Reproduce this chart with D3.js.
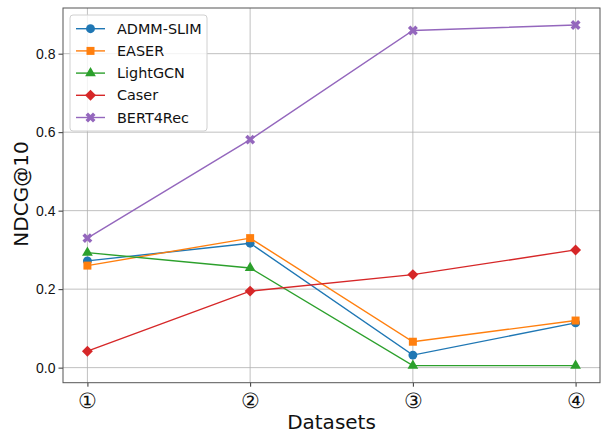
<!DOCTYPE html>
<html lang="en">
<head>
  <meta charset="UTF-8">
  <title>NDCG@10 by dataset</title>
  <script src="https://d3js.org/d3.v7.min.js"></script>
  <style>
    html, body { margin: 0; padding: 0; background: #fff; }
    svg { display: block; font-family: "DejaVu Sans", sans-serif; }
    .grid line { stroke: #b0b0b0; stroke-width: 0.8px; }
    .axis path, .axis line { stroke: #333; }
    .line { fill: none; stroke-width: 1.4px; }
  </style>
</head>
<body>
  <svg id="chart" width="606" height="434"></svg>
  <script>
  // data
  const datasets = ["①", "②", "③", "④"];
  const models = ["ADMM-SLIM", "EASER", "LightGCN", "Caser", "BERT4Rec"];
  const admmSlim = [0.272, 0.317, 0.032, 0.114];
  const easer    = [0.260, 0.330, 0.066, 0.120];
  const lightGcn = [0.293, 0.254, 0.005, 0.005];
  const caser    = [0.042, 0.195, 0.237, 0.300];
  const bert4rec = [0.330, 0.581, 0.859, 0.873];
  const yTicks = [0.0, 0.2, 0.4, 0.6, 0.8];

  const colors = ["#1f77b4", "#ff7f0e", "#2ca02c", "#d62728", "#9467bd"];
  const symbols = [
    { type: d3.symbolCircle, size: 62, rot: 0 },
    { type: d3.symbolSquare, size: 64, rot: 0 },
    { type: d3.symbolTriangle, size: 50, rot: 0 },
    { type: d3.symbolSquare, size: 60, rot: 45 },
    { type: d3.symbolCross, size: 62, rot: 45 }
  ];
  const series = [admmSlim, easer, lightGcn, caser, bert4rec];

  const svg = d3.select("#chart");
  const plot = { left: 63, right: 600, top: 8, bottom: 382.7 };

  const x = d3.scaleLinear().domain([-0.15, 3.15]).range([plot.left, plot.right]);
  const y = d3.scaleLinear().domain([-0.0384, 0.9164]).range([plot.bottom, plot.top]);

  // grid
  const grid = svg.append("g").attr("class", "grid");
  grid.selectAll(".gx").data(datasets).enter().append("line")
    .attr("x1", (d, i) => x(i)).attr("x2", (d, i) => x(i))
    .attr("y1", plot.top).attr("y2", plot.bottom);
  grid.selectAll(".gy").data(yTicks).enter().append("line")
    .attr("y1", d => y(d)).attr("y2", d => y(d))
    .attr("x1", plot.left).attr("x2", plot.right);

  // axes
  const xAxis = svg.append("g")
    .attr("class", "axis")
    .attr("transform", `translate(0,${plot.bottom})`)
    .call(d3.axisBottom(x).tickValues(d3.range(datasets.length))
      .tickFormat(i => datasets[i]).tickSize(4).tickPadding(4));
  xAxis.select(".domain").remove();
  xAxis.selectAll("text").attr("font-size", 20.5).attr("fill", "#111").attr("dy", "0.85em");

  const yAxis = svg.append("g")
    .attr("class", "axis")
    .attr("transform", `translate(${plot.left},0)`)
    .call(d3.axisLeft(y).tickValues(yTicks).tickFormat(d3.format(".1f"))
      .tickSize(4.5).tickPadding(3));
  yAxis.select(".domain").remove();
  yAxis.selectAll("text").attr("font-size", 14).attr("fill", "#111");

  // frame
  svg.append("rect")
    .attr("x", plot.left).attr("y", plot.top)
    .attr("width", plot.right - plot.left).attr("height", plot.bottom - plot.top)
    .attr("fill", "none").attr("stroke", "#555").attr("stroke-width", 1);

  // lines and markers
  const line = d3.line().x((d, i) => x(i)).y(d => y(d));
  series.forEach((vals, k) => {
    svg.append("path").datum(vals)
      .attr("class", "line")
      .attr("stroke", colors[k])
      .attr("d", line);
    svg.selectAll(".m" + k).data(vals).enter().append("path")
      .attr("class", "m" + k)
      .attr("fill", colors[k])
      .attr("d", d3.symbol().type(symbols[k].type).size(symbols[k].size))
      .attr("transform", (d, i) => `translate(${x(i)},${y(d)}) rotate(${symbols[k].rot})`);
  });

  // axis labels
  svg.append("text")
    .attr("x", (plot.left + plot.right) / 2).attr("y", 429)
    .attr("text-anchor", "middle").attr("font-size", 20).attr("fill", "#111")
    .text("Datasets");
  svg.append("text")
    .attr("transform", "translate(28,194) rotate(-90)")
    .attr("text-anchor", "middle").attr("font-size", 20).attr("fill", "#111")
    .text("NDCG@10");

  // legend
  const legend = svg.append("g");
  legend.append("rect")
    .attr("x", 70).attr("y", 15).attr("width", 137).attr("height", 116)
    .attr("rx", 3).attr("fill", "#fff").attr("fill-opacity", 0.8)
    .attr("stroke", "#d0d0d0");
  models.forEach((name, k) => {
    const cy = 28.7 + k * 22.2;
    legend.append("line")
      .attr("x1", 76).attr("x2", 105).attr("y1", cy).attr("y2", cy)
      .attr("stroke", colors[k]).attr("stroke-width", 1.4);
    legend.append("path")
      .attr("fill", colors[k])
      .attr("d", d3.symbol().type(symbols[k].type).size(symbols[k].size))
      .attr("transform", `translate(90.5,${cy}) rotate(${symbols[k].rot})`);
    legend.append("text")
      .attr("x", 117).attr("y", cy).attr("dy", "0.36em")
      .attr("font-size", 14.4).attr("fill", "#111")
      .text(name);
  });
  </script>
</body>
</html>
